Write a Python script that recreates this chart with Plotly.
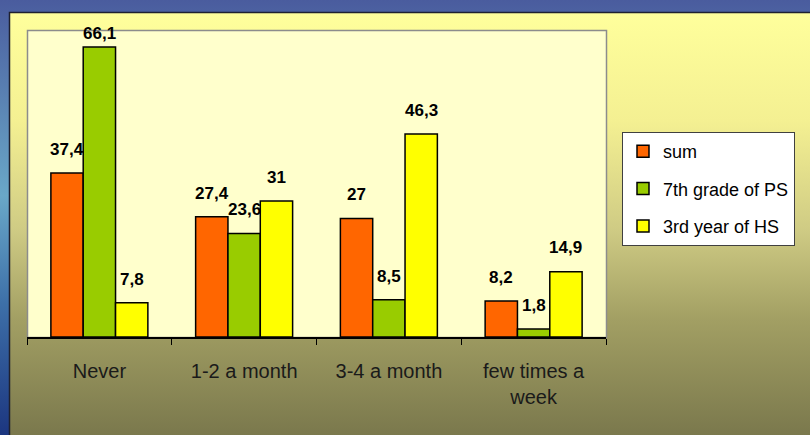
import base64
import plotly.graph_objects as go

categories = ["Never", "1-2 a month", "3-4 a month", "few times a<br>week"]
series_names = ["sum", "7th grade of PS", "3rd year of HS"]
sum_vals = [37.4, 27.4, 27, 8.2]
ps7_vals = [66.1, 23.6, 8.5, 1.8]
hs3_vals = [7.8, 31, 46.3, 14.9]
colors = ["#FF6600", "#99CC00", "#FFFF00"]

W, H = 810, 435
L, R, T, B = 27, 204, 30, 98
pw, ph = W - L - R, H - T - B
bargap = 0.33
ymax = 70

# background: blue frame + yellow/olive chart area + pale plot area
svg = f"""<svg xmlns='http://www.w3.org/2000/svg' width='{W}' height='{H}'>
<defs>
<linearGradient id='blue' x1='0' y1='0' x2='0' y2='1'>
<stop offset='0' stop-color='#4a5c9e'/><stop offset='0.45' stop-color='#6aa8c8'/>
<stop offset='0.7' stop-color='#3d6fa8'/><stop offset='1' stop-color='#1c3680'/></linearGradient>
<linearGradient id='area' x1='0' y1='0' x2='0' y2='1'>
<stop offset='0' stop-color='#ffff9c'/><stop offset='0.25' stop-color='#f4f092'/>
<stop offset='0.5' stop-color='#cfcb84'/><stop offset='0.7' stop-color='#a3a064'/>
<stop offset='1' stop-color='#76744a'/></linearGradient>
</defs>
<rect x='0' y='0' width='{W}' height='{H}' fill='url(#blue)'/>
<rect x='9.5' y='12.5' width='{W}' height='{H}' fill='url(#area)' stroke='#1e2030' stroke-width='1.5'/>
<rect x='{L}.5' y='{T}.5' width='{pw}' height='{ph}' fill='#ffffcc' stroke='#8c8c8c' stroke-width='1.5'/>
</svg>"""
src = "data:image/svg+xml;base64," + base64.b64encode(svg.encode()).decode()

fig = go.Figure()
for i, (name, vals) in enumerate(zip(series_names, [sum_vals, ps7_vals, hs3_vals])):
    fig.add_trace(go.Bar(
        x=categories, y=vals, name=name, legendgroup=name,
        marker=dict(color=colors[i], line=dict(color="black", width=1.5)),
    ))
    bw = (1 - bargap) / 3
    for j, v in enumerate(vals):
        fig.add_annotation(
            x=j + (i - 1) * bw, y=min(v + 5.4, 69.3), xref="x", yref="y",
            text="<b>" + str(v).replace(".", ",") + "</b>", showarrow=False,
            font=dict(family="Arial, Liberation Sans", size=17, color="black"),
            yanchor="middle",
        )

fig.add_layout_image(dict(
    source=src, xref="paper", yref="paper",
    x=-L / pw, y=1 + T / ph, sizex=W / pw, sizey=H / ph,
    xanchor="left", yanchor="top", sizing="stretch", layer="below",
))

fig.update_layout(
    width=W, height=H,
    margin=dict(l=L, r=R, t=T, b=B, autoexpand=False),
    paper_bgcolor="#3d6fa8", plot_bgcolor="rgba(0,0,0,0)",
    barmode="group", bargap=bargap, bargroupgap=0,
    font=dict(family="Arial, Liberation Sans", size=20, color="#1a1a1a"),
    showlegend=True,
    legend=dict(
        x=(622 - L) / pw, y=(H - B - 132) / ph, xanchor="left", yanchor="top",
        bgcolor="white", bordercolor="#404040", borderwidth=1,
        font=dict(size=18, color="black"), tracegroupgap=11,
    ),
    xaxis=dict(
        type="category", showline=True, linecolor="black", linewidth=1.5,
        ticks="outside", tickson="boundaries", ticklen=6, tickcolor="black",
        showgrid=False, ticklabelstandoff=15,
    ),
    yaxis=dict(range=[0, ymax], showticklabels=False, showgrid=False,
               zeroline=False, ticks=""),
)

fig.write_html("out.html", config={"displayModeBar": False},
               post_script="document.body.style.margin='0';")
